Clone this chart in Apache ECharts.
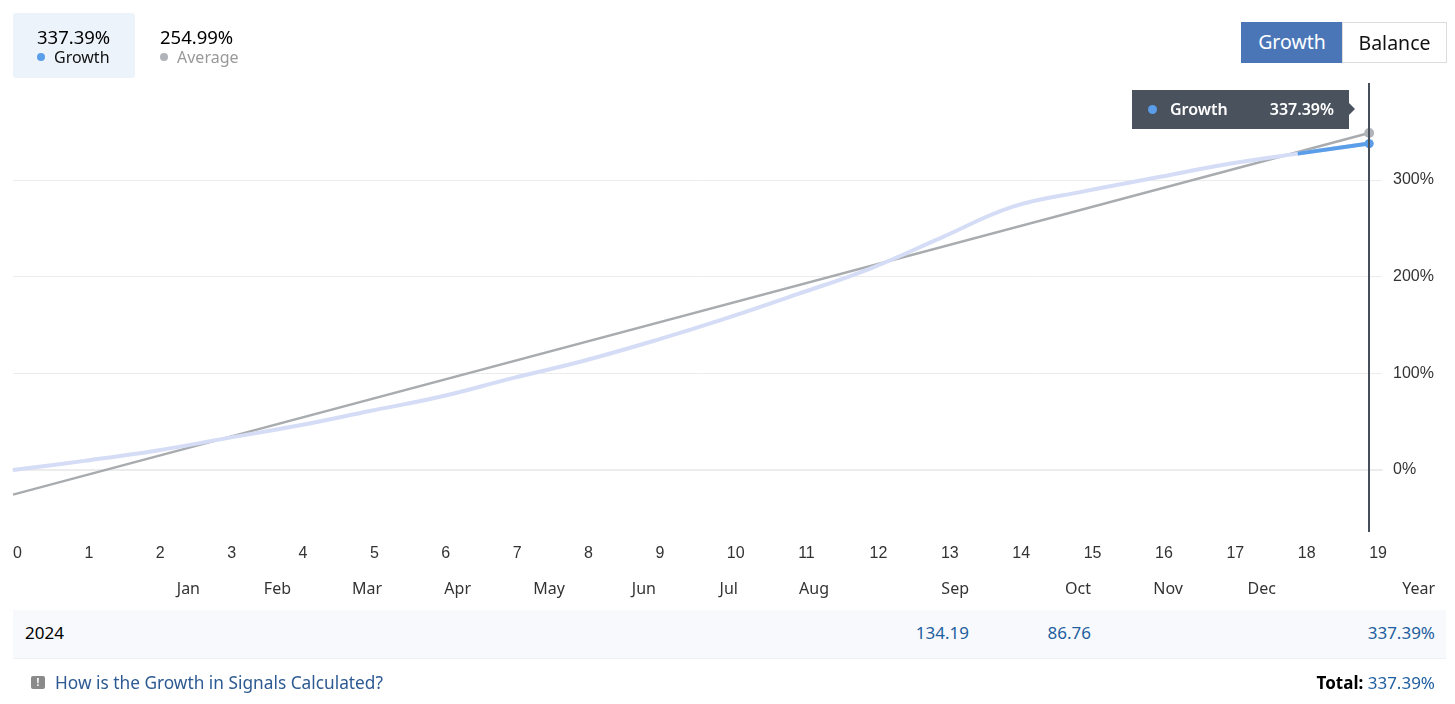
<!DOCTYPE html>
<html>
<head>
<meta charset="utf-8">
<script src="https://cdn.jsdelivr.net/npm/echarts@6/dist/echarts.min.js"></script>
<style>
  html, body { margin: 0; padding: 0; background: #fff; }
  body { width: 1455px; height: 704px; position: relative; overflow: hidden; font-family: "Noto Sans", "DejaVu Sans", sans-serif; }
  #chart { position: absolute; left: 0; top: 0; width: 1455px; height: 704px; }
  .abs { position: absolute; white-space: nowrap; }
  .legbox { left: 13px; top: 13px; width: 122px; height: 65px; background: #edf3fb; border-radius: 3px; }
  .val { font-size: 18.5px; color: #000; line-height: 20px; }
  .lab { font-size: 16px; line-height: 18px; }
  .dot { display: inline-block; width: 8px; height: 8px; border-radius: 50%; margin-right: 9px; vertical-align: 2px; }
  .btn { top: 22px; height: 41px; line-height: 40px; font-size: 19.5px; text-align: center; box-sizing: border-box; }
  .month { top: 578px; font-size: 16px; color: #333; line-height: 20px; text-align: right; }
  .rowbg { left: 13px; top: 610px; width: 1433px; height: 48px; background: #f7f9fd; border-bottom: 1px solid #eef1f6; }
  .cell { top: 623px; font-size: 17px; line-height: 20px; text-align: right; color: #1f5f9f; }
</style>
</head>
<body>
<div id="chart"></div>
<div id="ui"></div>
<script>
// ---- data ----
const trades = [0, 1, 2, 3, 4, 5, 6, 7, 8, 9, 10, 11, 12, 13, 14, 15, 16, 17, 18, 19];
const growthValues = [0, 9.5, 20, 33, 46, 61, 76, 95, 113, 134, 157, 182, 208, 240, 272, 288, 302, 316, 327, 337.39];
const selectedTrades = [18, 19];
const selectedValues = [327, 337.39];
const averageTrades = [0, 19];
const averageValues = [-25.4, 348.4];
const yTicks = [0, 100, 200, 300];
const months = ['Jan', 'Feb', 'Mar', 'Apr', 'May', 'Jun', 'Jul', 'Aug', 'Sep', 'Oct', 'Nov', 'Dec', 'Year'];
const yearLabel = '2024';
const monthValues = ['', '', '', '', '', '', '', '', '134.19', '86.76', '', '', '337.39%'];
const growthTotal = '337.39%';
const averageTotal = '254.99%';

// ---- layout (not data) ----
const monthRightEdges = [200, 291, 382, 471, 565, 656, 738, 829, 969, 1091, 1183, 1276, 1435];

const ui = document.getElementById('ui');
let html = '';
html += '<div class="abs legbox"></div>';
html += '<div class="abs val" style="left:37px;top:27px;">' + growthTotal + '</div>';
html += '<div class="abs lab" style="left:37px;top:48px;color:#111;"><span class="dot" style="background:#5a9ee9"></span>Growth</div>';
html += '<div class="abs val" style="left:160px;top:27px;">' + averageTotal + '</div>';
html += '<div class="abs lab" style="left:160px;top:48px;color:#999;"><span class="dot" style="background:#b0b3b8"></span>Average</div>';
html += '<div class="abs btn" style="left:1241px;width:102px;background:#4a76b8;color:#fff;">Growth</div>';
html += '<div class="abs btn" style="left:1342px;width:105px;border:1px solid #dcdcdc;color:#111;">Balance</div>';
months.forEach(function (m, i) {
  html += '<div class="abs month" style="right:' + (1455 - monthRightEdges[i]) + 'px;">' + m + '</div>';
});
html += '<div class="abs rowbg"></div>';
html += '<div class="abs cell" style="left:25px;color:#000;text-align:left;">' + yearLabel + '</div>';
monthValues.forEach(function (v, i) {
  if (v) html += '<div class="abs cell" style="right:' + (1455 - monthRightEdges[i]) + 'px;">' + v + '</div>';
});
html += '<div class="abs" style="left:31px;top:676px;width:14px;height:13px;background:#8a8a8a;border-radius:2px;color:#fff;font-size:10px;line-height:13px;text-align:center;font-weight:bold;">!</div>';
html += '<div class="abs" style="left:55px;top:671px;font-size:17.3px;line-height:24px;color:#2d5a92;">How is the Growth in Signals Calculated?</div>';
html += '<div class="abs" style="right:20px;top:671px;font-size:17px;line-height:24px;color:#000;"><b>Total:</b> <span style="color:#1f5f9f">' + growthTotal + '</span></div>';
ui.innerHTML = html;

const growthData = trades.map(function (t, i) { return [t, growthValues[i]]; });
const selectedData = selectedTrades.map(function (t, i) { return [t, selectedValues[i]]; });
const averageData = averageTrades.map(function (t, i) { return [t, averageValues[i]]; });

const chart = echarts.init(document.getElementById('chart'), null, { renderer: 'canvas' });
chart.setOption({
  animation: false,
  grid: { left: 13, right: 73, top: 83, bottom: 172, containLabel: false },
  xAxis: {
    type: 'value', min: 0, max: 19.18, interval: 1,
    axisLine: { show: true, lineStyle: { color: '#ececec', width: 2 } },
    axisTick: { show: false },
    splitLine: { show: false },
    axisLabel: {
      color: '#333', fontSize: 16, fontFamily: 'Liberation Sans, Arial, sans-serif', margin: 14, align: 'left',
      showMaxLabel: false,
      formatter: function (v) { return trades.indexOf(v) >= 0 ? String(v) : ''; }
    },
    axisPointer: { show: true, type: 'line', snap: true, label: { show: false }, lineStyle: { color: '#464e59', width: 2, type: 'solid' } }
  },
  yAxis: {
    type: 'value', position: 'right', min: -64, max: 400, splitNumber: 5,
    axisLine: { show: false }, axisTick: { show: false },
    splitLine: { show: true, showMinLine: false, showMaxLine: false, lineStyle: { color: '#ececec', width: 1 } },
    axisLabel: {
      color: '#333', fontSize: 16, fontFamily: 'Liberation Sans, Arial, sans-serif', margin: 11,
      showMinLabel: false, showMaxLabel: false,
      formatter: function (v) { return yTicks.indexOf(v) >= 0 ? v + '%' : ''; }
    }
  },
  tooltip: {
    trigger: 'axis', triggerOn: 'none', alwaysShowContent: true,
    backgroundColor: '#4a525e', borderWidth: 0, padding: 0,
    extraCssText: 'border-radius:0;box-shadow:none;',
    position: function (point, params, dom, rect, size) {
      return [point[0] - size.contentSize[0] - 20, 90];
    },
    formatter: function (params) {
      const p = params.filter(function (q) { return q.seriesIndex === 0; })[0];
      const val = p ? p.value[1] : '';
      return '<div style="position:relative;width:217px;height:39px;font-family:Noto Sans, DejaVu Sans, sans-serif;color:#fff;font-size:16px;font-weight:600;line-height:39px;">' +
        '<span style="position:absolute;left:16px;top:15px;width:9px;height:9px;border-radius:50%;background:#5a9ee9;"></span>' +
        '<span style="position:absolute;left:38px;">Growth</span>' +
        '<span style="position:absolute;right:15px;">' + val + '%</span>' +
        '<span style="position:absolute;right:-6px;top:13px;width:0;height:0;border-left:6px solid #4a525e;border-top:6px solid transparent;border-bottom:6px solid transparent;"></span>' +
        '</div>';
    }
  },
  series: [
    {
      name: 'Growth', type: 'line', data: growthData, smooth: 0.4,
      showSymbol: false, symbol: 'circle', symbolSize: 8,
      lineStyle: { width: 4, color: '#d5ddf6' }, itemStyle: { color: '#5a9ee9' }, z: 3,
      emphasis: { disabled: true }
    },
    {
      name: 'Growth selected', type: 'line', data: selectedData,
      showSymbol: false, symbol: 'circle', symbolSize: 8,
      lineStyle: { width: 4, color: '#5a9ee9' }, itemStyle: { color: '#5a9ee9' }, z: 4,
      emphasis: { disabled: true }
    },
    {
      name: 'Average', type: 'line', data: averageData,
      showSymbol: false, symbol: 'circle', symbolSize: 9,
      lineStyle: { width: 2.5, color: '#a9acaf' }, itemStyle: { color: '#b0b3b8' }, z: 2,
      emphasis: { disabled: true }
    }
  ]
});
chart.dispatchAction({ type: 'showTip', seriesIndex: 0, dataIndex: 19 });
</script>
</body>
</html>
